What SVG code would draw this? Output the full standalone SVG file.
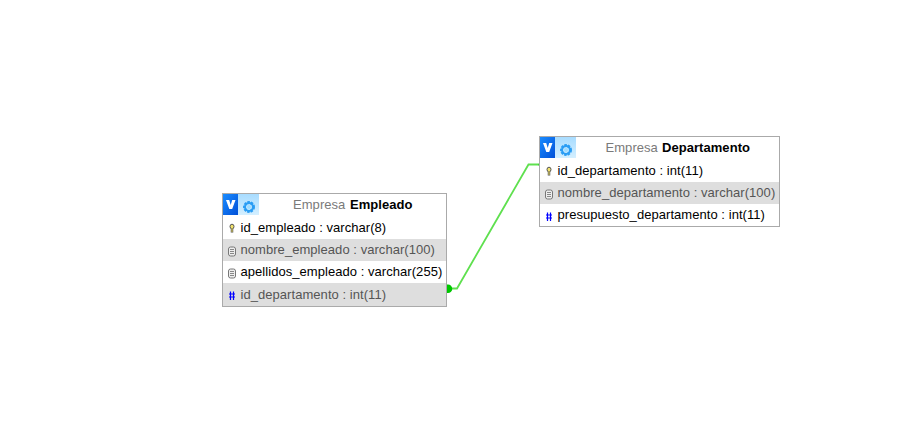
<svg xmlns="http://www.w3.org/2000/svg" width="920" height="432" viewBox="0 0 920 432">
<style>
text{font-family:"Liberation Sans",Arial,sans-serif;font-size:13px;fill:#000;letter-spacing:.05px}
.t{fill:#7a7a7a}.b{font-weight:700;fill:#000}
.g{fill:#555}
.box{fill:#fff;stroke:#aaa;stroke-width:1}
.alt{fill:#dedede}
.hash{stroke:#00f;stroke-width:1.200;fill:none}
.doc{fill:#eee;stroke:#777;stroke-width:1}
.docl{stroke:#888;stroke-width:1;fill:none}
.ctr{fill:none;stroke:#5fe04f;stroke-width:1.800}
</style>
<defs>
<linearGradient id="vg" x1="0" y1="0" x2="1" y2="1"><stop offset="0" stop-color="#1a8cff"/><stop offset="1" stop-color="#0050d8"/></linearGradient>
<linearGradient id="sg" x1="0" y1="0" x2="0" y2="1"><stop offset="0" stop-color="#a8dcff"/><stop offset="1" stop-color="#d4efff"/></linearGradient>
<g id="head">
<rect x="0" y="0" width="15" height="21" fill="url(#vg)"/>
<rect x="15" y="0" width="21" height="21" fill="url(#sg)"/>
<path d="M3 6 L6.200 6 L7.700 11 L9.200 6 L12.500 6 L9.200 15 L6.300 15 Z" fill="#fff"/>
<circle cx="26" cy="13" r="4.500" fill="none" stroke="#2a9df4" stroke-width="3" stroke-dasharray="2.200 1"/>
<circle cx="26" cy="13" r="4" fill="none" stroke="#2a9df4" stroke-width="2"/>
<circle cx="26" cy="13" r="2" fill="#9fdcff"/>
</g>
<g id="key">
<ellipse cx="0" cy="-1.500" rx="2" ry="2.300" fill="#f2e26a" stroke="#555" stroke-width="1"/>
<path d="M0 0 V4.500" stroke="#555" stroke-width="2.500"/>
<path d="M0 0 V4" stroke="#e8d860" stroke-width="1"/>
</g>
<g id="doc">
<rect x="-3.500" y="-4" width="7" height="9" rx="2" class="doc"/>
<path d="M-2 -1.500 H2 M-2 .5 H2 M-2 2.500 H2" class="docl"/>
</g>
<g id="hash">
<path d="M-1.500 -4 V4.500 M1.500 -4 V4.500 M-3 -1.500 H3 M-3 1.500 H3" class="hash"/>
</g>
</defs>
<g id="connectors">
<path class="ctr" d="M449 288.500 H457 L528.500 164.500 H540"/>
<path d="M447 284.500 h1 a4 4 0 0 1 0 8.500 h-1 Z" fill="#00c800"/>
<path d="M540 162.500 A2.500 2.500 0 0 0 540 167 Z" fill="#00c000"/>
</g>
<g id="table-empleado">
<rect class="box" x="222.500" y="193.500" width="224" height="113"/>
<rect class="alt" x="223" y="239" width="223" height="22"/>
<rect class="alt" x="223" y="283" width="223" height="23"/>
<use href="#head" x="223" y="194"/>
<text x="293" y="209"><tspan class="t">Empresa</tspan><tspan class="b" x="350">Empleado</tspan></text>
<use href="#key" x="232" y="228"/>
<text x="240.500" y="232">id_empleado : varchar(8)</text>
<use href="#doc" x="232" y="251"/>
<text class="g" x="240.500" y="254">nombre_empleado : varchar(100)</text>
<use href="#doc" x="232" y="273"/>
<text x="240.500" y="276">apellidos_empleado : varchar(255)</text>
<use href="#hash" x="232" y="295.500"/>
<text class="g" x="240.500" y="299">id_departamento : int(11)</text>
</g>
<g id="table-departamento">
<rect class="box" x="539.500" y="136.500" width="240" height="90"/>
<rect class="alt" x="540" y="182" width="239" height="22"/>
<use href="#head" x="540" y="137"/>
<text x="605.500" y="152"><tspan class="t">Empresa</tspan><tspan class="b" x="662">Departamento</tspan></text>
<use href="#key" x="549" y="171"/>
<text x="557.500" y="175">id_departamento : int(11)</text>
<use href="#doc" x="549" y="194"/>
<text class="g" x="557.500" y="197">nombre_departamento : varchar(100)</text>
<use href="#hash" x="549" y="216.500"/>
<text x="557.500" y="219">presupuesto_departamento : int(11)</text>
</g>
</svg>
